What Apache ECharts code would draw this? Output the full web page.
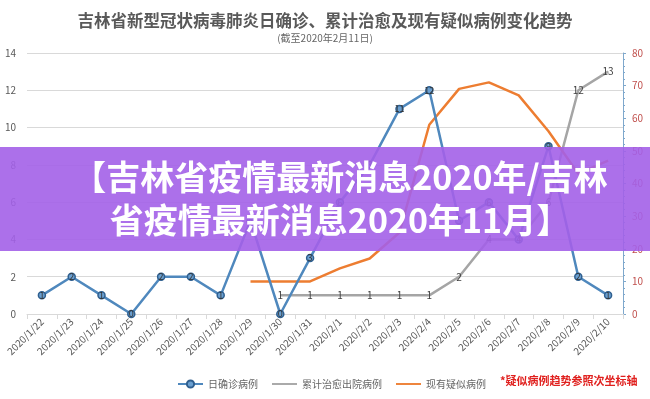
<!DOCTYPE html>
<html><head><meta charset="utf-8">
<script src="https://cdn.jsdelivr.net/npm/echarts@6/dist/echarts.min.js"></script>
<style>html,body{margin:0;padding:0;background:#fff}#c{width:650px;height:399px}</style>
</head><body><div id="c"></div>
<script>
const categories = ['2020/1/22','2020/1/23','2020/1/24','2020/1/25','2020/1/26','2020/1/27','2020/1/28','2020/1/29','2020/1/30','2020/1/31','2020/2/1','2020/2/2','2020/2/3','2020/2/4','2020/2/5','2020/2/6','2020/2/7','2020/2/8','2020/2/9','2020/2/10'];
const dailyConfirmed = [1,2,1,0,2,2,1,5,0,3,6,8,11,12,5,6,4,9,2,1];
const cumulativeCured = [null,null,null,null,null,null,null,null,1,1,1,1,1,1,2,4,4,6,12,13];
const currentSuspected = [null,null,null,null,null,null,null,10,10,10,14,17,25,58,69,71,67,56,43,47];
const leftTicks = {min:0,max:14,interval:2};
const rightTicks = {min:0,max:80,interval:10};
const seriesNames = ['日确诊病例','累计治愈出院病例','现有疑似病例'];
const titleText = '吉林省新型冠状病毒肺炎日确诊、累计治愈及现有疑似病例变化趋势';
const subtitleText = '(截至2020年2月11日)';
const noteText = '*疑似病例趋势参照次坐标轴';
const bannerText = '【吉林省疫情最新消息2020年/吉林\n省疫情最新消息2020年11月】';

const chart = echarts.init(document.getElementById('c'), null, {renderer:'canvas'});
const font = '"Noto Sans CJK SC","Noto Sans",sans-serif';
const lineIcon = 'path://M0,0 L40,0 L40,3 L0,3 Z';
chart.setOption({
  backgroundColor:'#fff',
  textStyle:{fontFamily:font},
  title:{text:titleText, subtext:subtitleText, left:'center', top:7, itemGap:5,
    textStyle:{fontSize:16.5,fontWeight:'bold',color:'#595959',fontFamily:font},
    subtextStyle:{fontSize:10,color:'#666',fontFamily:font}},
  legend:{data:[{name:seriesNames[0]},{name:seriesNames[1],icon:lineIcon},{name:seriesNames[2],icon:lineIcon}],
    left:172, top:374, itemWidth:25, itemHeight:9, itemGap:14,
    textStyle:{fontSize:10,color:'#666',fontFamily:font}},
  grid:{left:27,right:27,top:53,bottom:85},
  xAxis:{type:'category',data:categories,boundaryGap:true,
    axisLine:{lineStyle:{color:'#d9d9d9'}},
    axisTick:{show:true,lineStyle:{color:'#d9d9d9'}},
    axisLabel:{rotate:45,fontSize:10,color:'#595959',margin:6,interval:0}},
  yAxis:[
    {type:'value',min:leftTicks.min,max:leftTicks.max,interval:leftTicks.interval,
     axisLabel:{fontSize:10,color:'#595959',margin:11},
     axisLine:{show:false},axisTick:{show:false},
     splitLine:{lineStyle:{color:'#d9d9d9'}}},
    {type:'value',min:rightTicks.min,max:rightTicks.max,interval:rightTicks.interval,position:'right',
     axisLabel:{fontSize:10,color:'#c0504d',margin:9},
     axisLine:{show:true,lineStyle:{color:'#7fa8cc'}},
     axisTick:{show:true,length:3,lineStyle:{color:'#7fa8cc'}},
     minorTick:{show:true,splitNumber:5,length:2,lineStyle:{color:'#7fa8cc'}},
     splitLine:{show:false}}
  ],
  series:[
    {name:seriesNames[0],type:'line',data:dailyConfirmed,yAxisIndex:0,
     symbol:'circle',symbolSize:7,
     lineStyle:{color:'#4f88bd',width:2.5},
     itemStyle:{color:'#6a9fd0',borderColor:'#2f5f8f',borderWidth:1.5},
     label:{show:true,position:'inside',fontSize:9,color:'#333'},z:3},
    {name:seriesNames[1],type:'line',data:cumulativeCured,yAxisIndex:0,
     symbol:'circle',symbolSize:1,showSymbol:true,
     lineStyle:{color:'#a5a5a5',width:2.5},itemStyle:{color:'#a5a5a5'},
     label:{show:true,position:'inside',fontSize:10,color:'#404040'},z:2},
    {name:seriesNames[2],type:'line',data:currentSuspected,yAxisIndex:1,
     symbol:'none',
     lineStyle:{color:'#ed7d31',width:2.5},itemStyle:{color:'#ed7d31'},z:2}
  ],
  graphic:[
    {type:'text',left:500,top:375,z:10,style:{text:noteText,fill:'#e0201e',fontSize:11,fontWeight:'bold',fontFamily:font}},
    {type:'rect',shape:{x:0,y:147,width:650,height:104},z:100,style:{fill:'rgba(163,96,232,0.9)'}},
    {type:'text',x:340,y:199,z:101,style:{text:bannerText,fill:'#fff',fontSize:34,fontWeight:'bold',lineHeight:43,
      align:'center',verticalAlign:'middle',fontFamily:'"Noto Sans CJK SC",sans-serif'}}
  ]
});
</script></body></html>
